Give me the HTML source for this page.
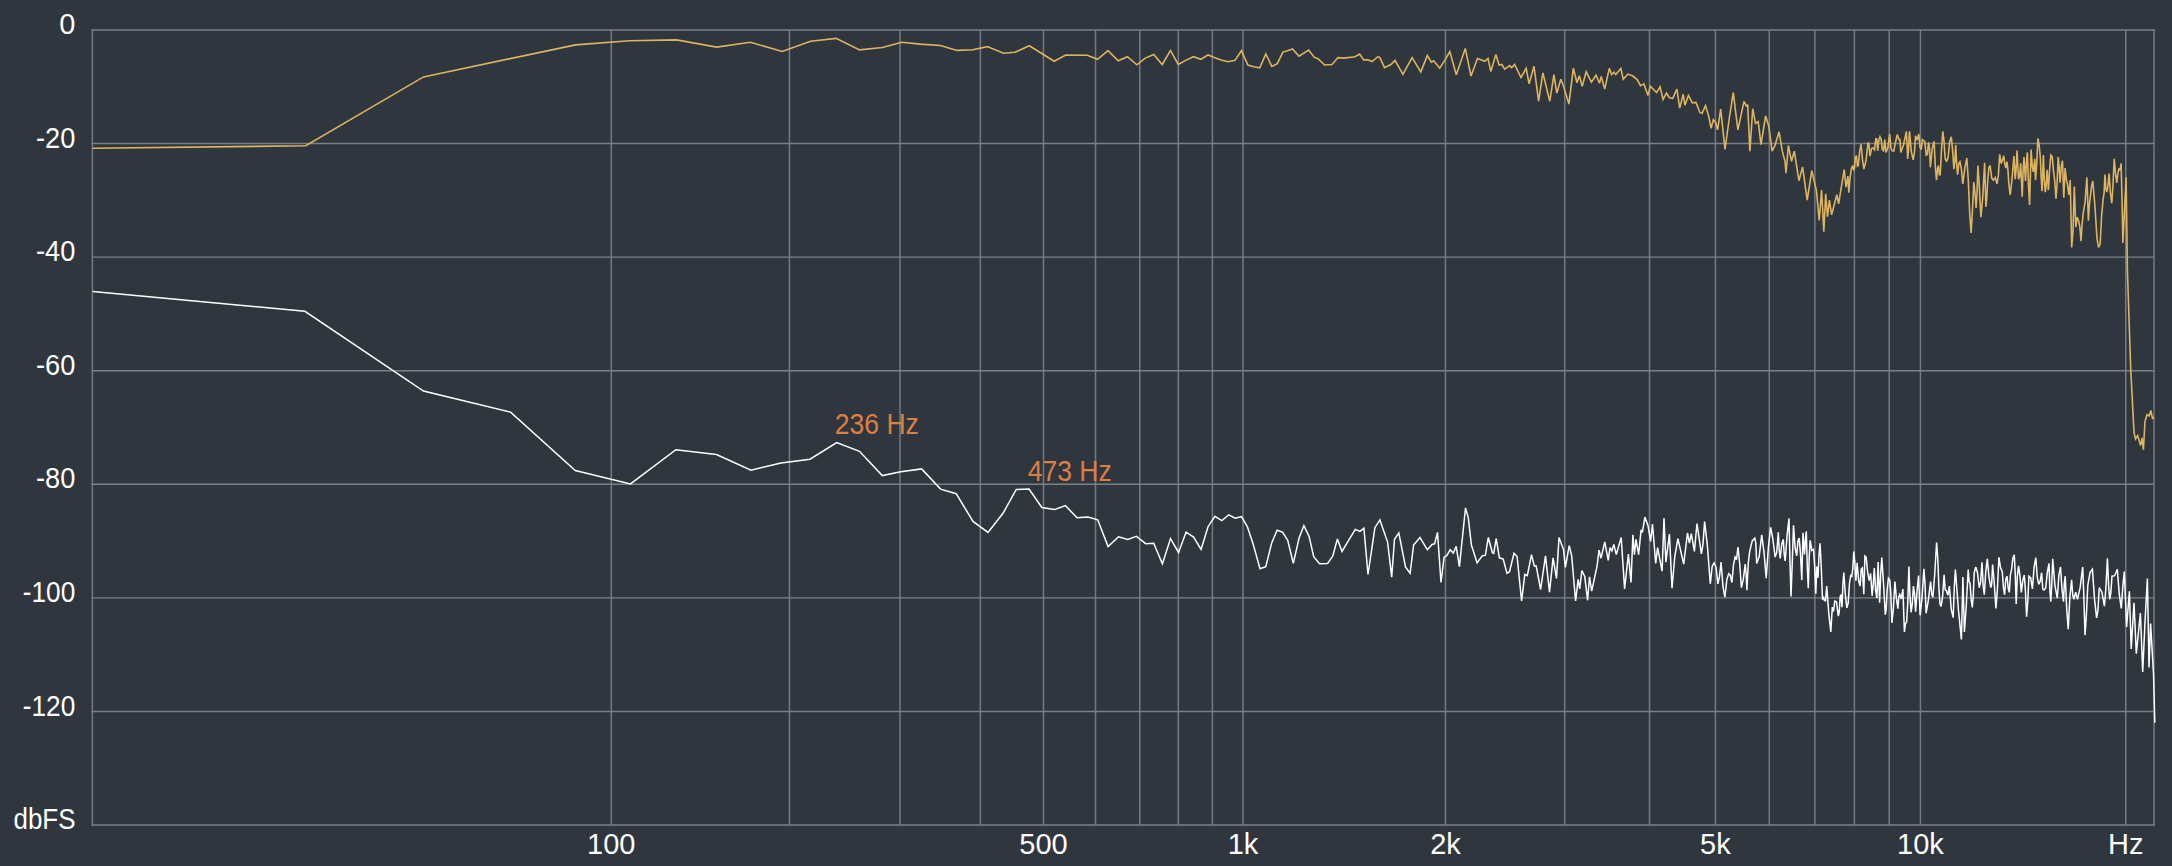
<!DOCTYPE html><html><head><meta charset="utf-8"><style>html,body{margin:0;padding:0;background:#30363e;width:2172px;height:866px;overflow:hidden}svg{display:block}text{font-family:"Liberation Sans",sans-serif}</style></head><body>
<svg width="2172" height="866" viewBox="0 0 2172 866">
<rect width="2172" height="866" fill="#30363e"/>
<line x1="611.30" y1="30" x2="611.30" y2="825" stroke="#737a82" stroke-width="1.5"/>
<line x1="789.46" y1="30" x2="789.46" y2="825" stroke="#737a82" stroke-width="1.5"/>
<line x1="899.99" y1="30" x2="899.99" y2="825" stroke="#737a82" stroke-width="1.5"/>
<line x1="980.34" y1="30" x2="980.34" y2="825" stroke="#737a82" stroke-width="1.5"/>
<line x1="1043.50" y1="30" x2="1043.50" y2="825" stroke="#737a82" stroke-width="1.5"/>
<line x1="1095.55" y1="30" x2="1095.55" y2="825" stroke="#737a82" stroke-width="1.5"/>
<line x1="1139.81" y1="30" x2="1139.81" y2="825" stroke="#737a82" stroke-width="1.5"/>
<line x1="1178.32" y1="30" x2="1178.32" y2="825" stroke="#737a82" stroke-width="1.5"/>
<line x1="1212.40" y1="30" x2="1212.40" y2="825" stroke="#737a82" stroke-width="1.5"/>
<line x1="1242.96" y1="30" x2="1242.96" y2="825" stroke="#737a82" stroke-width="1.5"/>
<line x1="1445.47" y1="30" x2="1445.47" y2="825" stroke="#737a82" stroke-width="1.5"/>
<line x1="1564.71" y1="30" x2="1564.71" y2="825" stroke="#737a82" stroke-width="1.5"/>
<line x1="1649.53" y1="30" x2="1649.53" y2="825" stroke="#737a82" stroke-width="1.5"/>
<line x1="1715.41" y1="30" x2="1715.41" y2="825" stroke="#737a82" stroke-width="1.5"/>
<line x1="1769.29" y1="30" x2="1769.29" y2="825" stroke="#737a82" stroke-width="1.5"/>
<line x1="1814.88" y1="30" x2="1814.88" y2="825" stroke="#737a82" stroke-width="1.5"/>
<line x1="1854.38" y1="30" x2="1854.38" y2="825" stroke="#737a82" stroke-width="1.5"/>
<line x1="1889.23" y1="30" x2="1889.23" y2="825" stroke="#737a82" stroke-width="1.5"/>
<line x1="1920.42" y1="30" x2="1920.42" y2="825" stroke="#737a82" stroke-width="1.5"/>
<line x1="2125.75" y1="30" x2="2125.75" y2="825" stroke="#737a82" stroke-width="1.5"/>
<line x1="91.4" y1="30.00" x2="2155" y2="30.00" stroke="#7a8189" stroke-width="1.4"/>
<line x1="91.4" y1="143.57" x2="2155" y2="143.57" stroke="#7a8189" stroke-width="1.4"/>
<line x1="91.4" y1="257.14" x2="2155" y2="257.14" stroke="#7a8189" stroke-width="1.4"/>
<line x1="91.4" y1="370.71" x2="2155" y2="370.71" stroke="#7a8189" stroke-width="1.4"/>
<line x1="91.4" y1="484.29" x2="2155" y2="484.29" stroke="#7a8189" stroke-width="1.4"/>
<line x1="91.4" y1="597.86" x2="2155" y2="597.86" stroke="#7a8189" stroke-width="1.4"/>
<line x1="91.4" y1="711.43" x2="2155" y2="711.43" stroke="#7a8189" stroke-width="1.4"/>
<line x1="91.4" y1="825.00" x2="2155" y2="825.00" stroke="#7a8189" stroke-width="1.4"/>
<line x1="92.4" y1="30" x2="92.4" y2="825" stroke="#737a82" stroke-width="1.5"/>
<line x1="2154" y1="30" x2="2154" y2="825" stroke="#737a82" stroke-width="1.5"/>
<text x="75.3" y="34.20" font-size="29" text-anchor="end" fill="#fff">0</text>
<text x="75.3" y="147.77" font-size="29" text-anchor="end" fill="#fff" textLength="39.3" lengthAdjust="spacingAndGlyphs">-20</text>
<text x="75.3" y="261.34" font-size="29" text-anchor="end" fill="#fff" textLength="39.3" lengthAdjust="spacingAndGlyphs">-40</text>
<text x="75.3" y="374.91" font-size="29" text-anchor="end" fill="#fff" textLength="39.3" lengthAdjust="spacingAndGlyphs">-60</text>
<text x="75.3" y="488.49" font-size="29" text-anchor="end" fill="#fff" textLength="39.3" lengthAdjust="spacingAndGlyphs">-80</text>
<text x="75.3" y="602.06" font-size="29" text-anchor="end" fill="#fff" textLength="52.5" lengthAdjust="spacingAndGlyphs">-100</text>
<text x="75.3" y="715.63" font-size="29" text-anchor="end" fill="#fff" textLength="52.5" lengthAdjust="spacingAndGlyphs">-120</text>
<text x="75.5" y="829.3" font-size="29" text-anchor="end" fill="#fff" textLength="62" lengthAdjust="spacingAndGlyphs">dbFS</text>
<text x="611.30" y="854" font-size="29" text-anchor="middle" fill="#fff">100</text>
<text x="1043.50" y="854" font-size="29" text-anchor="middle" fill="#fff">500</text>
<text x="1242.96" y="854" font-size="29" text-anchor="middle" fill="#fff">1k</text>
<text x="1445.47" y="854" font-size="29" text-anchor="middle" fill="#fff">2k</text>
<text x="1715.41" y="854" font-size="29" text-anchor="middle" fill="#fff">5k</text>
<text x="1920.42" y="854" font-size="29" text-anchor="middle" fill="#fff">10k</text>
<text x="2125.75" y="854" font-size="29" text-anchor="middle" fill="#fff">Hz</text>
<path d="M92.5 148.2 L305.8 145.8 L423.5 76.9 L575.5 44.9 L629.5 40.7 L676.6 39.9 L716.6 47.1 L750.5 42.3 L782.2 51.5 L810.6 41.3 L836.1 38.4 L859.6 49.9 L882.4 47.5 L901.7 42.3 L920.5 44.1 L940.4 45.5 L957.0 50.4 L972.7 49.8 L987.4 46.6 L1003.5 53.2 L1015.0 52.3 L1029.3 45.7 L1054.2 61.3 L1065.7 55.0 L1087.3 55.3 L1097.5 59.3 L1108.0 50.7 L1118.2 60.8 L1127.4 56.7 L1136.9 64.8 L1145.2 58.1 L1153.8 54.4 L1162.2 64.5 L1170.5 50.7 L1178.3 64.5 L1185.7 60.4 L1193.5 56.7 L1200.9 59.3 L1208.1 54.9 L1214.3 57.6 L1221.2 59.9 L1228.1 61.8 L1235.0 60.4 L1241.4 50.7 L1247.9 65.0 L1253.8 66.8 L1259.8 67.9 L1265.8 53.9 L1271.8 66.4 L1277.3 63.6 L1282.9 52.1 L1287.5 50.7 L1292.5 48.9 L1299.0 56.2 L1308.6 50.1 L1314.2 57.2 L1318.3 59.0 L1324.6 65.0 L1332.0 64.5 L1338.0 57.6 L1343.9 58.1 L1355.0 56.7 L1359.6 54.1 L1363.7 59.9 L1367.9 59.7 L1372.0 61.5 L1378.0 56.7 L1379.9 57.6 L1384.5 67.6 L1390.9 64.5 L1395.0 60.4 L1402.9 74.4 L1412.1 57.6 L1420.8 71.9 L1427.3 55.6 L1431.4 62.2 L1433.7 60.8 L1439.7 68.2 L1444.8 60.4 L1449.8 51.6 L1456.3 74.7 L1465.3 48.4 L1471.0 76.0 L1477.5 58.5 L1484.8 61.3 L1488.0 58.5 L1490.8 71.4 L1495.9 54.4 L1499.1 65.0 L1501.9 64.5 L1504.6 69.1 L1509.7 65.5 L1511.7 67.7 L1514.6 64.5 L1521.0 77.5 L1526.2 68.3 L1529.1 83.9 L1534.0 66.3 L1538.6 101.2 L1542.9 72.9 L1549.8 101.2 L1553.9 74.6 L1556.8 93.1 L1560.8 79.3 L1563.1 85.0 L1568.9 104.1 L1573.3 68.3 L1577.0 82.7 L1579.3 75.8 L1582.2 86.2 L1586.2 71.8 L1591.4 82.1 L1596.0 75.2 L1599.5 83.3 L1601.2 76.4 L1604.7 89.1 L1609.3 68.3 L1611.6 74.6 L1613.9 72.3 L1615.7 74.6 L1620.9 68.6 L1623.2 79.3 L1627.8 74.1 L1632.4 75.8 L1637.0 79.3 L1640.5 85.6 L1643.9 83.9 L1648.0 95.4 L1650.3 86.2 L1656.6 92.5 L1660.1 86.8 L1663.0 99.5 L1666.5 93.1 L1669.4 97.7 L1672.8 98.3 L1676.9 89.1 L1679.7 108.1 L1683.2 94.3 L1684.9 105.2 L1688.4 95.4 L1692.4 102.9 L1695.9 102.4 L1700.0 112.7 L1702.2 113.3 L1705.5 105.5 L1708.9 117.0 L1711.1 128.4 L1713.3 119.7 L1715.7 122.5 L1717.6 129.9 L1720.7 109.2 L1725.0 149.3 L1729.6 116.0 L1733.3 92.6 L1735.1 107.7 L1737.9 129.9 L1744.0 101.3 L1746.2 105.9 L1747.7 105.0 L1749.9 151.2 L1752.7 108.7 L1755.5 123.4 L1758.2 121.6 L1761.0 144.7 L1765.6 116.0 L1768.8 126.2 L1772.1 151.2 L1774.9 145.6 L1779.1 131.8 L1782.3 151.2 L1785.0 161.3 L1786.0 173.3 L1788.4 145.6 L1791.5 161.3 L1794.3 151.2 L1798.9 180.7 L1802.6 166.9 L1807.2 200.1 L1811.8 170.6 L1816.5 190.9 L1819.2 220.5 L1821.6 190.0 L1823.8 231.6 L1825.7 193.7 L1827.5 216.8 L1829.4 200.1 L1831.6 214.9 L1836.8 194.6 L1838.6 203.8 L1844.2 169.6 L1846.0 187.2 L1847.9 176.1 L1848.8 192.8 L1850.0 178.4 L1851.4 168.4 L1852.8 165.5 L1853.7 170.5 L1854.6 167.3 L1855.5 156.5 L1856.5 156.2 L1857.4 166.1 L1858.3 165.5 L1859.7 151.2 L1861.1 144.2 L1862.5 160.0 L1863.9 169.1 L1866.0 160.6 L1868.1 142.3 L1869.0 145.0 L1870.0 156.2 L1871.5 148.5 L1873.1 147.9 L1874.5 149.7 L1875.9 138.7 L1876.8 138.9 L1877.7 150.7 L1878.8 140.6 L1880.0 136.8 L1881.2 139.4 L1882.3 149.7 L1883.5 150.8 L1884.8 139.6 L1886.0 152.5 L1887.8 147.9 L1889.7 134.0 L1890.9 148.0 L1892.1 150.7 L1893.7 151.2 L1895.3 143.3 L1897.2 134.6 L1899.0 139.6 L1899.9 139.6 L1900.8 152.5 L1903.6 144.5 L1906.4 131.3 L1907.7 159.0 L1908.6 148.6 L1909.5 131.3 L1911.3 151.6 L1913.2 159.9 L1914.4 152.3 L1915.6 135.9 L1917.2 140.0 L1918.8 134.0 L1920.0 147.0 L1921.2 149.7 L1922.4 139.5 L1923.6 140.5 L1924.9 141.6 L1926.2 155.3 L1927.4 154.4 L1928.6 142.3 L1929.5 148.0 L1930.4 167.3 L1932.2 148.7 L1934.1 141.4 L1935.3 166.1 L1936.5 180.2 L1937.5 169.1 L1938.4 165.5 L1939.3 174.7 L1940.2 174.7 L1941.5 150.1 L1942.8 131.3 L1944.0 140.8 L1945.2 159.0 L1946.6 161.1 L1948.0 158.1 L1949.7 141.5 L1951.3 136.8 L1952.6 150.3 L1953.9 169.1 L1954.8 161.3 L1955.7 145.1 L1956.7 164.9 L1957.6 174.7 L1958.8 163.5 L1960.0 161.8 L1961.4 169.0 L1962.8 183.9 L1964.8 168.1 L1966.8 158.1 L1968.3 180.2 L1969.7 213.3 L1971.1 232.9 L1972.4 211.3 L1973.8 182.1 L1974.9 191.9 L1976.1 208.0 L1977.0 193.7 L1977.9 165.5 L1979.4 187.5 L1980.9 217.2 L1982.8 196.5 L1984.6 162.7 L1985.9 207.0 L1986.8 197.8 L1987.7 180.2 L1988.9 167.5 L1990.1 165.5 L1991.7 178.1 L1993.3 180.2 L1995.2 177.6 L1997.0 183.9 L1998.3 175.9 L1999.7 154.4 L2001.2 163.5 L2002.8 158.8 L2003.7 155.7 L2004.6 162.5 L2005.8 168.1 L2007.0 161.6 L2008.0 170.6 L2008.9 184.7 L2010.2 194.9 L2012.1 178.2 L2013.9 156.0 L2015.2 179.1 L2016.1 169.4 L2017.0 150.5 L2018.5 179.1 L2019.6 176.5 L2020.7 163.4 L2022.2 196.7 L2023.1 171.0 L2024.0 157.0 L2025.5 181.0 L2026.5 161.5 L2027.4 152.3 L2028.5 185.5 L2029.6 205.0 L2031.1 149.6 L2032.2 166.0 L2033.3 171.8 L2034.8 158.8 L2035.5 180.1 L2036.7 164.4 L2037.9 138.5 L2039.1 144.5 L2040.3 157.0 L2041.2 178.0 L2042.1 191.2 L2043.4 155.1 L2044.3 179.9 L2045.3 192.1 L2046.2 184.8 L2047.1 169.9 L2048.4 190.2 L2049.6 169.7 L2050.8 155.1 L2052.2 156.6 L2053.6 171.8 L2054.8 181.3 L2056.0 198.6 L2057.1 183.2 L2058.2 157.0 L2059.1 166.4 L2060.1 182.8 L2061.3 166.2 L2062.5 160.7 L2063.8 197.6 L2065.1 168.1 L2066.3 179.3 L2067.5 184.7 L2068.8 194.9 L2070.2 180.1 L2071.7 247.5 L2073.0 230.9 L2074.3 186.5 L2075.8 227.2 L2077.2 217.2 L2078.6 220.7 L2079.8 226.5 L2081.0 241.1 L2082.1 224.4 L2083.2 213.3 L2085.1 201.8 L2086.9 177.3 L2088.4 220.7 L2089.3 205.5 L2090.2 197.6 L2091.5 186.7 L2092.8 181.0 L2094.9 205.8 L2097.0 238.3 L2098.6 247.4 L2100.2 243.8 L2101.6 215.5 L2103.1 199.5 L2104.1 193.1 L2105.0 174.5 L2105.9 188.4 L2106.8 192.1 L2107.9 186.6 L2109.1 173.6 L2110.4 193.0 L2111.8 203.2 L2113.0 184.8 L2114.2 158.8 L2115.5 173.4 L2116.8 182.8 L2118.0 172.3 L2119.2 168.1 L2120.1 170.4 L2121.1 163.4 L2122.0 198.2 L2122.9 242.9 L2126.1 177.3 L2127.4 270.0 L2130.7 368.7 L2134.0 432.3 L2135.5 438.9 L2137.7 435.6 L2140.6 445.4 L2142.1 437.8 L2143.4 449.8 L2145.0 421.3 L2147.1 414.7 L2149.3 415.8 L2150.9 410.4 L2152.6 419.1 L2153.7 416.9" fill="none" stroke="#ddb460" stroke-width="1.6" stroke-linejoin="miter" stroke-miterlimit="3"/>
<path d="M92.7 291.5 L304.9 311.3 L423.5 391.0 L510.6 412.1 L575.3 470.5 L630.5 483.9 L675.9 449.7 L716.5 454.6 L751.0 470.3 L781.0 462.9 L810.0 459.2 L836.7 442.6 L859.5 451.3 L882.3 475.6 L900.8 471.8 L921.6 468.9 L940.6 489.1 L956.2 493.7 L973.0 521.4 L988.0 532.4 L1003.0 513.3 L1016.3 489.4 L1029.0 489.1 L1041.9 507.5 L1054.4 509.6 L1065.4 505.6 L1077.0 517.7 L1087.9 517.1 L1097.7 519.8 L1108.1 546.6 L1118.5 536.8 L1127.8 539.4 L1136.4 536.4 L1145.7 543.7 L1153.7 543.3 L1162.4 563.9 L1170.5 538.5 L1178.6 552.4 L1186.1 532.1 L1193.6 537.1 L1201.1 549.5 L1208.0 526.7 L1214.9 516.3 L1221.9 520.6 L1228.8 514.8 L1235.2 518.2 L1241.5 516.7 L1247.3 526.6 L1253.1 543.9 L1260.0 568.7 L1265.8 566.7 L1271.6 543.3 L1277.1 530.3 L1282.5 532.1 L1287.7 540.4 L1293.3 563.3 L1299.1 537.9 L1303.9 525.6 L1309.1 536.4 L1313.7 556.6 L1319.5 563.7 L1327.6 563.5 L1332.8 556.0 L1337.4 539.0 L1342.0 551.4 L1348.9 539.8 L1355.3 529.4 L1359.9 531.4 L1363.9 528.3 L1368.0 574.5 L1374.9 527.7 L1379.9 519.9 L1387.6 542.1 L1391.7 577.1 L1394.5 539.3 L1398.8 532.9 L1405.5 567.0 L1410.1 573.3 L1413.6 545.0 L1420.0 537.5 L1427.4 549.8 L1432.1 544.4 L1434.6 543.8 L1437.5 532.4 L1441.0 582.5 L1444.1 557.1 L1446.7 555.6 L1450.2 549.8 L1453.3 553.1 L1456.2 546.3 L1459.4 566.7 L1465.5 507.9 L1468.3 517.8 L1471.4 545.1 L1477.1 562.9 L1482.2 555.9 L1485.4 555.2 L1488.3 537.5 L1492.4 552.7 L1493.7 553.3 L1496.2 538.7 L1499.4 557.8 L1503.2 559.0 L1507.0 573.4 L1509.5 571.7 L1514.0 553.3 L1517.1 556.5 L1521.6 601.0 L1524.8 574.3 L1527.3 575.6 L1531.5 554.6 L1534.3 566.0 L1536.2 566.0 L1540.6 589.5 L1545.5 555.9 L1549.5 592.1 L1553.1 557.8 L1556.5 578.5 L1559.0 537.5 L1563.5 549.5 L1565.4 567.3 L1569.2 545.7 L1571.7 555.9 L1575.6 601.0 L1578.1 579.4 L1579.7 588.9 L1581.9 570.5 L1584.8 576.8 L1587.6 600.3 L1589.5 576.8 L1591.7 591.2 L1597.1 566.0 L1599.0 550.2 L1601.0 558.2 L1604.8 541.9 L1608.2 560.3 L1610.0 547.6 L1611.9 550.8 L1613.8 544.4 L1616.3 554.6 L1621.2 537.5 L1624.6 588.9 L1628.4 554.0 L1631.0 582.5 L1632.9 534.9 L1634.4 554.6 L1636.0 539.4 L1638.6 554.6 L1641.1 529.8 L1642.4 532.4 L1644.9 517.1 L1648.1 526.0 L1650.6 541.3 L1652.5 524.1 L1655.7 563.5 L1657.6 547.6 L1662.1 571.1 L1664.0 518.4 L1665.9 562.2 L1669.4 534.0 L1672.0 588.3 L1674.8 556.5 L1677.9 538.7 L1683.7 564.1 L1687.5 533.0 L1689.4 543.2 L1691.3 533.7 L1694.4 551.4 L1697.0 523.5 L1701.4 554.0 L1703.0 543.8 L1704.6 521.6 L1707.4 545.8 L1710.3 583.8 L1712.2 566.2 L1714.1 562.9 L1716.0 567.2 L1717.9 583.8 L1719.5 576.4 L1721.1 562.2 L1723.0 587.0 L1724.9 597.1 L1726.8 579.8 L1728.7 573.7 L1730.3 575.2 L1731.9 582.5 L1733.5 564.9 L1735.1 557.1 L1736.5 559.6 L1738.0 547.0 L1739.7 563.7 L1741.4 587.6 L1743.3 579.4 L1745.2 564.1 L1746.1 573.7 L1746.9 590.2 L1748.3 562.9 L1749.7 551.4 L1752.2 540.9 L1754.8 538.1 L1755.8 543.0 L1756.7 563.5 L1759.2 556.5 L1761.7 534.9 L1764.0 552.1 L1766.2 578.1 L1768.4 547.1 L1770.6 527.3 L1772.8 538.5 L1775.1 557.1 L1776.7 552.6 L1778.3 532.4 L1779.2 549.8 L1780.2 558.4 L1781.8 543.9 L1783.3 539.4 L1784.2 554.4 L1785.2 561.0 L1787.1 535.3 L1789.0 518.4 L1790.0 563.3 L1791.0 596.5 L1792.2 564.1 L1793.5 525.4 L1795.1 547.7 L1796.7 555.9 L1798.0 540.6 L1799.2 538.1 L1800.5 553.8 L1801.8 580.1 L1803.0 532.8 L1804.5 554.5 L1805.4 539.8 L1806.3 531.3 L1807.3 567.5 L1808.3 588.3 L1809.2 557.1 L1810.2 540.3 L1811.8 550.5 L1813.5 549.3 L1814.7 566.7 L1815.8 593.6 L1816.8 566.5 L1818.0 577.8 L1819.0 555.4 L1820.0 543.3 L1821.2 565.4 L1822.5 599.6 L1823.4 596.5 L1824.3 600.3 L1825.5 600.8 L1826.7 586.1 L1828.8 613.6 L1830.8 631.9 L1832.3 607.1 L1833.5 611.5 L1834.8 601.1 L1836.5 601.8 L1838.3 616.1 L1839.2 612.2 L1840.2 596.6 L1841.1 594.6 L1842.0 607.1 L1842.9 584.8 L1843.8 572.6 L1845.3 594.1 L1846.8 607.8 L1848.2 603.0 L1849.5 583.1 L1850.7 575.5 L1851.8 576.3 L1852.8 568.3 L1853.8 551.5 L1854.8 561.8 L1855.9 580.8 L1857.1 562.8 L1858.6 580.5 L1860.1 586.1 L1861.2 569.1 L1862.3 568.0 L1863.8 594.3 L1864.9 556.0 L1866.2 557.4 L1867.6 571.8 L1869.1 580.5 L1870.6 573.3 L1872.1 595.8 L1873.2 584.9 L1874.3 568.0 L1875.6 590.1 L1876.9 598.1 L1878.1 562.0 L1879.6 602.6 L1880.7 573.9 L1881.8 557.5 L1883.5 583.0 L1885.3 614.6 L1886.2 609.6 L1887.1 590.6 L1888.4 578.2 L1889.8 580.1 L1890.8 593.6 L1891.9 622.9 L1893.4 608.3 L1894.9 581.6 L1896.4 598.5 L1897.9 608.6 L1898.8 596.7 L1899.8 594.3 L1901.3 598.9 L1902.9 589.1 L1904.4 631.9 L1905.5 623.5 L1906.6 622.1 L1907.8 602.2 L1908.9 566.5 L1910.0 597.2 L1911.1 612.3 L1912.2 604.5 L1913.4 586.1 L1914.5 593.6 L1915.6 611.6 L1917.1 590.2 L1918.6 575.6 L1920.1 615.3 L1922.0 598.1 L1923.9 568.8 L1925.0 583.6 L1926.1 613.1 L1928.3 600.6 L1930.6 581.6 L1931.8 594.9 L1932.9 597.3 L1934.8 573.0 L1936.6 542.5 L1937.8 559.0 L1938.9 588.3 L1940.0 604.1 L1941.1 606.3 L1942.6 596.3 L1944.1 574.8 L1945.2 589.8 L1946.4 590.6 L1947.9 595.2 L1949.4 586.1 L1951.3 609.6 L1953.2 617.6 L1954.3 587.4 L1955.4 569.5 L1958.4 609.7 L1961.4 639.4 L1962.9 577.1 L1964.4 631.9 L1966.3 605.2 L1968.2 569.5 L1969.1 581.5 L1970.0 583.1 L1971.2 599.9 L1972.3 607.4 L1973.2 596.7 L1974.2 572.7 L1975.8 567.0 L1977.5 572.7 L1979.2 587.7 L1980.6 582.3 L1982.0 562.3 L1983.2 586.4 L1984.3 594.7 L1985.8 571.3 L1987.3 558.9 L1989.0 577.1 L1990.8 587.7 L1991.7 583.8 L1992.6 564.6 L1994.2 582.3 L1995.9 608.5 L1997.4 589.4 L1998.9 557.3 L2000.6 568.1 L2002.3 571.6 L2003.4 587.5 L2004.6 594.7 L2005.8 578.9 L2007.0 576.2 L2008.2 588.1 L2009.3 592.4 L2010.4 574.8 L2011.6 569.3 L2012.9 558.2 L2014.3 554.9 L2015.2 573.3 L2016.2 603.9 L2017.3 576.9 L2018.5 565.8 L2019.9 575.4 L2021.3 592.4 L2022.8 580.3 L2024.3 575.0 L2025.4 590.5 L2026.6 616.6 L2027.8 601.4 L2028.9 576.2 L2030.7 577.8 L2032.4 588.9 L2034.1 567.4 L2035.8 557.7 L2037.3 577.5 L2038.8 584.3 L2040.2 581.3 L2041.6 572.7 L2042.8 589.1 L2043.9 590.0 L2045.7 588.1 L2047.4 571.6 L2049.0 563.5 L2049.9 590.4 L2050.8 601.6 L2051.8 583.5 L2052.7 558.9 L2055.0 586.2 L2057.3 598.1 L2058.9 574.8 L2060.5 567.0 L2062.0 589.3 L2063.5 601.6 L2064.3 583.7 L2065.2 576.2 L2066.7 608.6 L2068.2 629.3 L2069.9 596.7 L2071.6 579.7 L2072.8 595.5 L2073.9 599.3 L2075.7 592.2 L2077.4 599.3 L2080.1 587.9 L2082.7 567.0 L2083.8 595.3 L2085.0 635.1 L2086.4 614.7 L2087.8 585.4 L2090.1 572.3 L2092.4 569.3 L2094.5 598.9 L2096.6 617.8 L2097.9 610.6 L2099.3 587.7 L2101.9 592.2 L2104.4 606.2 L2105.9 588.1 L2107.4 558.2 L2108.6 585.4 L2109.7 599.3 L2110.8 593.1 L2112.0 576.2 L2114.7 575.7 L2117.3 569.3 L2119.3 594.3 L2121.3 608.5 L2122.8 586.5 L2124.3 571.6 L2126.6 627.0 L2129.4 591.2 L2131.2 648.9 L2134.0 602.7 L2136.3 653.6 L2140.4 613.1 L2142.7 672.0 L2145.1 620.1 L2147.4 578.5 L2149.0 667.4 L2150.6 623.5 L2153.6 675.5 L2154.8 722.8" fill="none" stroke="#ffffff" stroke-width="1.5" stroke-linejoin="miter" stroke-miterlimit="3"/>
<text x="834.8" y="434" font-size="29" fill="#de7f42" textLength="84" lengthAdjust="spacingAndGlyphs">236 Hz</text>
<text x="1027.7" y="480.8" font-size="29" fill="#de7f42" textLength="84" lengthAdjust="spacingAndGlyphs">473 Hz</text>
</svg></body></html>
